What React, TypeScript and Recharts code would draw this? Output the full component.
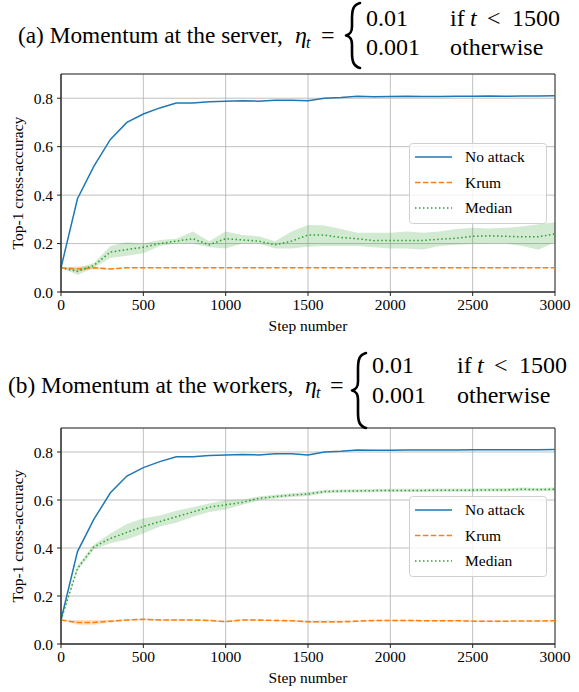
import React from "react";
import { ComposedChart, Line, Area, XAxis, YAxis, CartesianGrid, ReferenceArea } from "recharts";

// training steps (x axis)
const steps = [
  0, 100, 200, 300, 400, 500, 600, 700, 800, 900, 1000, 1100, 1200, 1300, 1400, 1500,
  1600, 1700, 1800, 1900, 2000, 2100, 2200, 2300, 2400, 2500, 2600, 2700, 2800, 2900, 3000,
];
const xTicks = [0, 500, 1000, 1500, 2000, 2500, 3000];
const yTicks = [0, 0.2, 0.4, 0.6, 0.8];

// (a) momentum at the server
const serverNoAttack = [
  0.1, 0.385, 0.52, 0.63, 0.7, 0.735, 0.76, 0.78, 0.78, 0.785, 0.787, 0.79, 0.788, 0.792, 0.792, 0.79,
  0.8, 0.803, 0.808, 0.806, 0.807, 0.808, 0.807, 0.807, 0.808, 0.808, 0.809, 0.808, 0.809, 0.809, 0.81,
];
const serverKrum = [
  0.1, 0.095, 0.1, 0.095, 0.1, 0.1, 0.1, 0.1, 0.1, 0.1, 0.1, 0.1, 0.1, 0.1, 0.1, 0.1,
  0.1, 0.1, 0.1, 0.1, 0.1, 0.1, 0.1, 0.1, 0.1, 0.1, 0.1, 0.1, 0.1, 0.1, 0.1,
];
const serverKrumLo = [
  0.1, 0.085, 0.095, 0.093, 0.099, 0.099, 0.099, 0.099, 0.099, 0.099, 0.099, 0.099, 0.099, 0.099, 0.099, 0.099,
  0.099, 0.099, 0.099, 0.099, 0.099, 0.099, 0.099, 0.099, 0.099, 0.099, 0.099, 0.099, 0.099, 0.099, 0.099,
];
const serverKrumHi = [
  0.1, 0.105, 0.105, 0.098, 0.101, 0.101, 0.101, 0.101, 0.101, 0.101, 0.101, 0.101, 0.101, 0.101, 0.101, 0.101,
  0.101, 0.101, 0.101, 0.101, 0.101, 0.101, 0.101, 0.101, 0.101, 0.101, 0.101, 0.101, 0.101, 0.101, 0.101,
];
const serverMedian = [
  0.1, 0.085, 0.11, 0.165, 0.175, 0.185, 0.2, 0.21, 0.22, 0.195, 0.22, 0.215, 0.21, 0.195, 0.21, 0.235,
  0.235, 0.225, 0.22, 0.212, 0.213, 0.213, 0.213, 0.218, 0.222, 0.23, 0.232, 0.23, 0.228, 0.228, 0.24,
];
const serverMedianLo = [
  0.1, 0.07, 0.1, 0.14, 0.15, 0.16, 0.19, 0.2, 0.2, 0.185, 0.18, 0.2, 0.2, 0.18, 0.18, 0.187,
  0.19, 0.19, 0.19, 0.185, 0.18, 0.18, 0.175, 0.19, 0.195, 0.198, 0.2, 0.2, 0.19, 0.174, 0.205,
];
const serverMedianHi = [
  0.1, 0.1, 0.12, 0.19, 0.205, 0.2, 0.215, 0.22, 0.25, 0.21, 0.25, 0.235, 0.23, 0.21, 0.25, 0.277,
  0.275, 0.26, 0.245, 0.245, 0.245, 0.25, 0.245, 0.25, 0.26, 0.265, 0.262, 0.265, 0.27, 0.28, 0.288,
];

// (b) momentum at the workers
const workerNoAttack = [
  0.1, 0.385, 0.52, 0.63, 0.7, 0.735, 0.76, 0.78, 0.78, 0.785, 0.787, 0.79, 0.788, 0.793, 0.793, 0.788,
  0.8, 0.803, 0.808, 0.807, 0.807, 0.808, 0.808, 0.808, 0.808, 0.809, 0.809, 0.809, 0.809, 0.809, 0.81,
];
const workerKrum = [
  0.1, 0.09, 0.09, 0.095, 0.1, 0.103, 0.1, 0.1, 0.1, 0.098, 0.093, 0.1, 0.1, 0.098, 0.097, 0.093,
  0.093, 0.093, 0.095, 0.098, 0.098, 0.098, 0.097, 0.097, 0.097, 0.095, 0.095, 0.095, 0.096, 0.096, 0.097,
];
const workerKrumLo = [
  0.1, 0.08, 0.08, 0.09, 0.097, 0.098, 0.097, 0.097, 0.097, 0.095, 0.09, 0.097, 0.097, 0.095, 0.094, 0.088,
  0.088, 0.088, 0.092, 0.095, 0.095, 0.095, 0.094, 0.094, 0.094, 0.092, 0.092, 0.092, 0.093, 0.093, 0.094,
];
const workerKrumHi = [
  0.1, 0.1, 0.1, 0.1, 0.103, 0.106, 0.103, 0.103, 0.103, 0.101, 0.097, 0.103, 0.103, 0.101, 0.1, 0.098,
  0.098, 0.098, 0.098, 0.101, 0.101, 0.101, 0.1, 0.1, 0.1, 0.098, 0.098, 0.098, 0.099, 0.099, 0.1,
];
const workerMedian = [
  0.1, 0.315, 0.405, 0.44, 0.465, 0.49, 0.51, 0.53, 0.55, 0.57, 0.58, 0.59, 0.607, 0.614, 0.62, 0.625,
  0.635, 0.637, 0.638, 0.639, 0.64, 0.64, 0.64, 0.641, 0.641, 0.641, 0.642, 0.642, 0.645, 0.643, 0.645,
];
const workerMedianLo = [
  0.1, 0.305, 0.395, 0.42, 0.435, 0.46, 0.49, 0.505, 0.53, 0.55, 0.56, 0.58, 0.598, 0.606, 0.612, 0.617,
  0.628, 0.63, 0.631, 0.632, 0.633, 0.633, 0.633, 0.634, 0.634, 0.634, 0.635, 0.635, 0.637, 0.636, 0.637,
];
const workerMedianHi = [
  0.1, 0.325, 0.415, 0.46, 0.5, 0.524, 0.535, 0.555, 0.57, 0.585, 0.6, 0.602, 0.615, 0.622, 0.628, 0.633,
  0.642, 0.644, 0.645, 0.646, 0.647, 0.647, 0.647, 0.648, 0.648, 0.648, 0.649, 0.649, 0.652, 0.65, 0.652,
];

const BLUE = "#1f77b4";
const ORANGE = "#ff7f0e";
const GREEN = "#2ca02c";
const SERIF = '"Liberation Serif", "Times New Roman", serif';

function buildRows(
  noAttack: number[],
  krum: number[],
  krumLo: number[],
  krumHi: number[],
  median: number[],
  medLo: number[],
  medHi: number[]
) {
  return steps.map((step, i) => ({
    step,
    noAttack: noAttack[i],
    krum: krum[i],
    krumBand: [krumLo[i], krumHi[i]],
    median: median[i],
    medBand: [medLo[i], medHi[i]],
  }));
}

// title with the piecewise learning-rate, laid out in svg so baselines are exact
type TitleLayout = {
  label: string;
  labelX: number;
  baseline: number;
  etaX: number;
  eqX: number;
  braceX: number;
  braceTop: number;
  braceBottom: number;
  valX: number;
  condX: number;
  row1: number;
  row2: number;
};

function Title({ t }: { t: TitleLayout }) {
  const mid = (t.braceTop + t.braceBottom) / 2;
  const b = t.braceX;
  const brace = `M ${b + 14} ${t.braceTop} C ${b + 7} ${t.braceTop + 2}, ${b + 6} ${t.braceTop + 7}, ${b + 6} ${t.braceTop + 16}
    L ${b + 6} ${mid - 9} C ${b + 6} ${mid - 3}, ${b + 4} ${mid - 1}, ${b} ${mid}
    C ${b + 4} ${mid + 1}, ${b + 6} ${mid + 3}, ${b + 6} ${mid + 9}
    L ${b + 6} ${t.braceBottom - 16} C ${b + 6} ${t.braceBottom - 7}, ${b + 7} ${t.braceBottom - 2}, ${b + 14} ${t.braceBottom}`;
  return (
    <g fontFamily={SERIF} fontSize={24} fill="#000">
      <text x={t.labelX} y={t.baseline} fontSize={23.3}>{t.label}</text>
      <text x={t.etaX} y={t.baseline} fontStyle="italic">η</text>
      <text x={t.etaX + 11} y={t.baseline + 5} fontStyle="italic" fontSize={16}>t</text>
      <text x={t.eqX} y={t.baseline}>=</text>
      <path d={brace} fill="none" stroke="#000" strokeWidth={2.6} strokeLinecap="round" strokeLinejoin="round" />
      <text x={t.valX} y={t.row1}>0.01</text>
      <text x={t.condX} y={t.row1}>if</text>
      <text x={t.condX + 20} y={t.row1} fontStyle="italic">t</text>
      <text x={t.condX + 37} y={t.row1}>&lt;</text>
      <text x={t.condX + 62} y={t.row1}>1500</text>
      <text x={t.valX} y={t.row2}>0.001</text>
      <text x={t.condX} y={t.row2}>otherwise</text>
    </g>
  );
}

function Legend({ top }: { top: number }) {
  const items = [
    { name: "No attack", color: BLUE, dash: undefined },
    { name: "Krum", color: ORANGE, dash: "5.5 2.4" },
    { name: "Median", color: GREEN, dash: "1.5 2.5" },
  ];
  return (
    <svg width={138} height={81} style={{ position: "absolute", left: 409, top }}>
      <rect x={0.5} y={0.5} width={137} height={80} rx={3} fill="rgba(255,255,255,0.8)" stroke="#d0d0d0" />
      {items.map((it, i) => (
        <g key={it.name}>
          <line x1={6} x2={43} y1={14 + i * 25.5} y2={14 + i * 25.5} stroke={it.color} strokeWidth={1.5} strokeDasharray={it.dash} />
          <text x={56} y={14 + i * 25.5} dy="0.35em" fontFamily={SERIF} fontSize={15.5} fill="#000">
            {it.name}
          </text>
        </g>
      ))}
    </svg>
  );
}

function Panel({
  rows,
  top,
  height,
  plotTop,
}: {
  rows: ReturnType<typeof buildRows>;
  top: number;
  height: number;
  plotTop: number;
}) {
  const plotBottom = height - 48;
  return (
    <div style={{ position: "absolute", left: 0, top, width: 579, height }}>
      <ComposedChart width={579} height={height} data={rows} margin={{ top: plotTop, right: 24, left: 0, bottom: 0 }}>
        <CartesianGrid stroke="#b0b0b0" strokeWidth={0.8} />
        <XAxis
          dataKey="step"
          type="number"
          domain={[0, 3000]}
          ticks={xTicks}
          height={48}
          tickSize={4}
          tickMargin={3}
          axisLine={{ stroke: "#222", strokeWidth: 0.9 }}
          tickLine={{ stroke: "#222" }}
          tick={{ fontSize: 15.5, fontFamily: SERIF, fill: "#000" }}
          interval={0}
        />
        <YAxis
          type="number"
          domain={[0, 0.9]}
          ticks={yTicks}
          width={61}
          tickSize={4}
          tickMargin={4}
          tickFormatter={(v) => Number(v).toFixed(1)}
          axisLine={{ stroke: "#222", strokeWidth: 0.9 }}
          tickLine={{ stroke: "#222" }}
          tick={{ fontSize: 15.5, fontFamily: SERIF, fill: "#000" }}
          interval={0}
        />
        <Area dataKey="krumBand" type="linear" stroke="none" fill={ORANGE} fillOpacity={0.25} isAnimationActive={false} />
        <Area dataKey="medBand" type="linear" stroke="none" fill={GREEN} fillOpacity={0.22} isAnimationActive={false} />
        <Line dataKey="noAttack" type="linear" stroke={BLUE} strokeWidth={1.5} dot={false} isAnimationActive={false} />
        <Line dataKey="krum" type="linear" stroke={ORANGE} strokeWidth={1.5} strokeDasharray="5.5 2.4" dot={false} isAnimationActive={false} />
        <Line dataKey="median" type="linear" stroke={GREEN} strokeWidth={1.5} strokeDasharray="1.5 2.5" dot={false} isAnimationActive={false} />
        <ReferenceArea x1={0} x2={3000} y1={0} y2={0.9} fill="none" fillOpacity={0} stroke="#222" strokeWidth={0.9} />
      </ComposedChart>
      <div
        style={{
          position: "absolute",
          left: 61,
          width: 494,
          top: plotBottom + 24,
          textAlign: "center",
          fontFamily: SERIF,
          fontSize: 15.5,
          lineHeight: "20px",
        }}
      >
        Step number
      </div>
      <div
        style={{
          position: "absolute",
          left: 18,
          top: (plotTop + plotBottom) / 2,
          transform: "translate(-50%, -50%) rotate(-90deg)",
          fontFamily: SERIF,
          fontSize: 15.5,
          whiteSpace: "nowrap",
          lineHeight: "18px",
        }}
      >
        Top-1 cross-accuracy
      </div>
    </div>
  );
}

const titleA: TitleLayout = {
  label: "(a) Momentum at the server,",
  labelX: 18,
  baseline: 43,
  etaX: 295,
  eqX: 321,
  braceX: 346,
  braceTop: 3,
  braceBottom: 68,
  valX: 366,
  condX: 450,
  row1: 26,
  row2: 55,
};

const titleB: TitleLayout = {
  label: "(b) Momentum at the workers,",
  labelX: 8,
  baseline: 393,
  etaX: 305,
  eqX: 330,
  braceX: 352,
  braceTop: 353,
  braceBottom: 428,
  valX: 372,
  condX: 457,
  row1: 373,
  row2: 403,
};

export default function App() {
  const serverRows = buildRows(serverNoAttack, serverKrum, serverKrumLo, serverKrumHi, serverMedian, serverMedianLo, serverMedianHi);
  const workerRows = buildRows(workerNoAttack, workerKrum, workerKrumLo, workerKrumHi, workerMedian, workerMedianLo, workerMedianHi);
  return (
    <div style={{ position: "absolute", left: 0, top: 0, width: 579, height: 692, background: "#fff", overflow: "hidden" }}>
      <Panel rows={serverRows} top={0} height={340} plotTop={74} />
      <Legend top={143} />
      <Panel rows={workerRows} top={350} height={342} plotTop={78} />
      <Legend top={496} />
      <svg width={579} height={692} style={{ position: "absolute", left: 0, top: 0, pointerEvents: "none" }}>
        <Title t={titleA} />
        <Title t={titleB} />
      </svg>
    </div>
  );
}
